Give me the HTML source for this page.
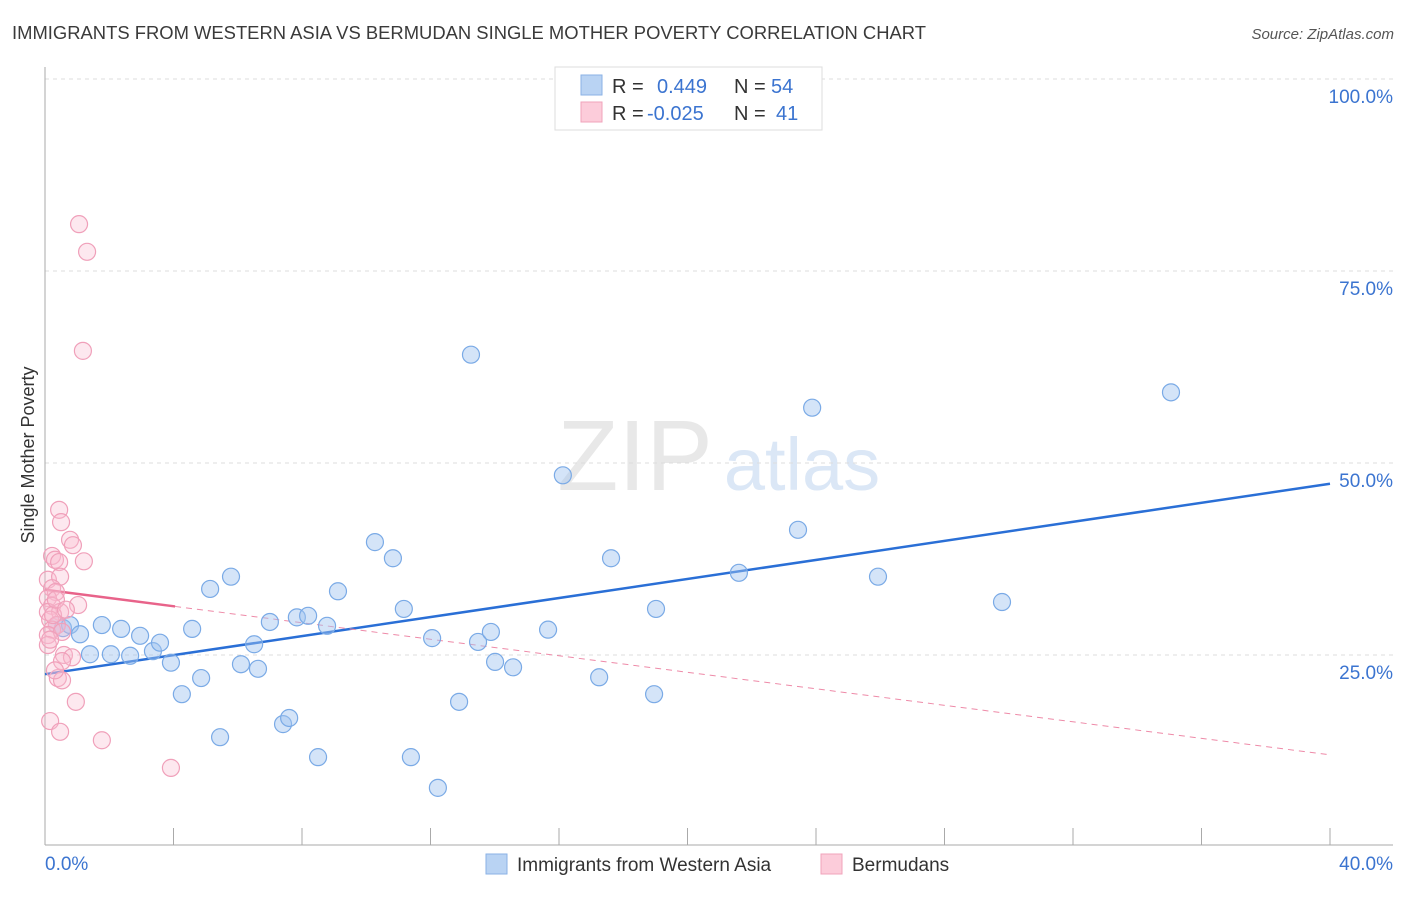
<!DOCTYPE html>
<html><head><meta charset="utf-8"><style>
body{margin:0;background:#fff;font-family:"Liberation Sans",sans-serif;}
svg text{font-family:"Liberation Sans",sans-serif;}
</style></head><body>
<svg id="chart" width="1406" height="892" xmlns="http://www.w3.org/2000/svg">
<text x="12" y="39" font-size="18" fill="#3a3a3a" textLength="914" lengthAdjust="spacingAndGlyphs">IMMIGRANTS FROM WESTERN ASIA VS BERMUDAN SINGLE MOTHER POVERTY CORRELATION CHART</text>
<text x="1394" y="39" font-size="15" fill="#555" font-style="italic" text-anchor="end">Source: ZipAtlas.com</text>
<text x="34" y="455" font-size="18" fill="#333" text-anchor="middle" transform="rotate(-90 34 455)">Single Mother Poverty</text>
<g><text x="635" y="490" font-size="100" fill="#e8e8e8" font-family="Liberation Serif" text-anchor="middle">ZIP</text><text x="802" y="490" font-size="74" fill="#dbe7f6" text-anchor="middle">atlas</text></g>
<g id="grid"></g><g id="axes"></g><g id="lines"></g><g id="pts"></g>
<g>
<rect x="555" y="67" width="267" height="63" fill="#fff" stroke="#ddd"/>
<rect x="581" y="75" width="21" height="20" fill="#b9d3f3" stroke="#8ab2e6"/>
<text x="612" y="93" font-size="20" fill="#333">R =</text><text x="657" y="93" font-size="20" fill="#3b74d0">0.449</text>
<text x="734" y="93" font-size="20" fill="#333">N =</text><text x="771" y="93" font-size="20" fill="#3b74d0">54</text>
<rect x="581" y="102" width="21" height="20" fill="#fcccda" stroke="#f0a3bb"/>
<text x="612" y="120" font-size="20" fill="#333">R =</text><text x="647" y="120" font-size="20" fill="#3b74d0">-0.025</text>
<text x="734" y="120" font-size="20" fill="#333">N =</text><text x="776" y="120" font-size="20" fill="#3b74d0">41</text>
</g>
<g>
<rect x="486" y="854" width="21" height="20" fill="#b9d3f3" stroke="#8ab2e6"/>
<text x="517" y="871" font-size="19" fill="#333">Immigrants from Western Asia</text>
<rect x="821" y="854" width="21" height="20" fill="#fcccda" stroke="#f0a3bb"/>
<text x="852" y="871" font-size="19" fill="#333">Bermudans</text>
</g>
</svg>
<script>
const blueX=[0.37,0.56,0.78,1.09,1.40,1.77,2.05,2.37,2.65,2.96,3.36,3.58,3.92,4.26,4.58,4.86,5.14,5.45,5.79,6.10,6.51,6.63,7.00,7.41,7.60,7.84,8.19,8.50,8.78,9.12,10.27,10.83,11.17,11.39,12.05,12.23,12.89,13.26,13.48,13.88,14.01,14.57,15.66,16.12,17.25,17.62,18.96,19.02,21.60,23.44,23.88,25.93,29.79,35.05];
const blueY=[28.9,28.5,28.9,27.7,25.1,28.9,25.1,28.4,24.9,27.5,25.5,26.6,24.0,19.9,28.4,22.0,33.6,14.3,35.2,23.8,26.4,23.2,29.3,16.0,16.8,29.9,30.1,11.7,28.8,33.3,39.7,37.6,31.0,11.7,27.2,7.7,18.9,64.1,26.7,28.0,24.1,23.4,28.3,48.4,22.1,37.6,19.9,31.0,35.7,41.3,57.2,35.2,31.9,59.2];
const pinkX=[1.06,1.31,1.18,0.44,0.50,0.78,0.87,0.22,0.31,1.21,0.44,0.09,0.47,0.22,0.34,0.09,0.22,1.03,0.09,0.47,0.16,0.37,0.22,0.09,0.53,0.09,0.59,0.84,0.53,0.40,0.53,0.96,0.16,0.47,1.77,3.92,0.25,0.34,0.65,0.16,0.31];
const pinkY=[81.1,77.5,64.6,43.9,42.3,40.0,39.3,37.9,37.4,37.2,37.1,34.8,35.2,33.7,33.2,32.4,31.4,31.5,30.6,30.6,29.6,28.9,28.3,27.6,28.0,26.3,25.0,24.7,24.2,22.0,21.7,18.9,16.4,15.0,13.9,10.3,30.2,32.2,30.9,27.0,23.0];
const yTicks=[25,50,75,100];
const yTickLabels=["25.0%","50.0%","75.0%","100.0%"];
const xTicks=[0,4,8,12,16,20,24,28,32,36,40];
const blueTrend=[22.5,47.3];
const pinkTrend=[33.5,12.0];
const pinkSolidEnd=4.05;
const NS="http://www.w3.org/2000/svg";
const sx=v=>45+v/40*1285, sy=v=>847-v/100*768;
function mk(t,a,p){const e=document.createElementNS(NS,t);for(const k in a)e.setAttribute(k,a[k]);p.appendChild(e);return e;}
const grid=document.getElementById('grid'),axes=document.getElementById('axes'),lines=document.getElementById('lines'),pts=document.getElementById('pts');
yTicks.forEach((v,i)=>{
 const l=mk('line',{x1:45,x2:1393,y1:sy(v),y2:sy(v),stroke:'#ddd','stroke-dasharray':'4 4'},grid);
 
 
 const t=mk('text',{x:1393,y:sy(v)+24,'font-size':19,fill:'#3b74d0','text-anchor':'end'},grid);
 t.textContent=yTickLabels[i];
 
 
});
const ya=mk('line',{x1:45,x2:45,y1:67,y2:845,stroke:'#aaa'},axes);


const xa=mk('line',{x1:45,x2:1393,y1:845,y2:845,stroke:'#aaa'},axes);


xTicks.forEach(v=>{const t=mk('line',{x1:sx(v),x2:sx(v),y1:828,y2:845,stroke:'#aaa'},axes);
 
 });
const xl0=mk('text',{x:45,y:870,'font-size':19,fill:'#3b74d0'},axes);xl0.textContent='0.0%';


const xl1=mk('text',{x:1393,y:870,'font-size':19,fill:'#3b74d0','text-anchor':'end'},axes);xl1.textContent='40.0%';


blueX.forEach((x,i)=>{const c=mk('circle',{cx:sx(x),cy:sy(blueY[i]),r:8.5,fill:'rgba(160,196,240,0.45)',stroke:'#7aaae6','stroke-width':1.2},pts);
 
 });
pinkX.forEach((x,i)=>{const c=mk('circle',{cx:sx(x),cy:sy(pinkY[i]),r:8.5,fill:'rgba(250,190,210,0.35)',stroke:'#f0a0ba','stroke-width':1.2},pts);
 
 });
const pv=x=>pinkTrend[0]+(pinkTrend[1]-pinkTrend[0])*x/40;
const bt=mk('line',{x1:sx(0),y1:sy(blueTrend[0]),x2:sx(40),y2:sy(blueTrend[1]),stroke:'#2a6fd6','stroke-width':2.5},lines);


const pd=mk('line',{x1:sx(pinkSolidEnd),y1:sy(pv(pinkSolidEnd)),x2:sx(40),y2:sy(pinkTrend[1]),stroke:'#ee8aa8','stroke-width':1,'stroke-dasharray':'6 5'},lines);


const ps=mk('line',{x1:sx(0),y1:sy(pinkTrend[0]),x2:sx(pinkSolidEnd),y2:sy(pv(pinkSolidEnd)),stroke:'#e8638a','stroke-width':2.5},lines);


</script>
</body></html>
